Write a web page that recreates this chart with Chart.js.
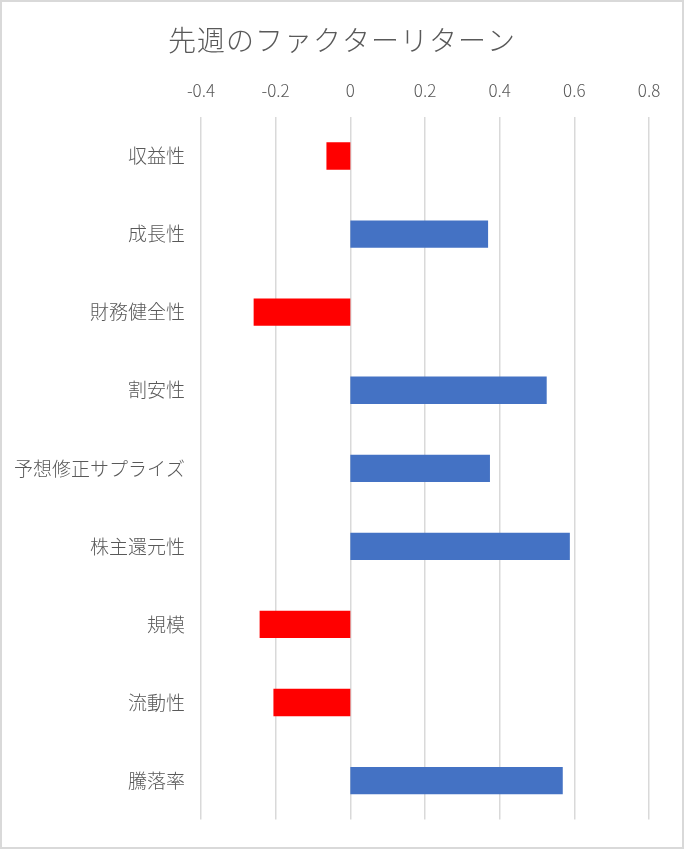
<!DOCTYPE html>
<html lang="ja">
<head>
<meta charset="utf-8">
<script src="https://cdn.jsdelivr.net/npm/chart.js@4"></script>
<style>
  html, body { margin: 0; padding: 0; background: #fff; }
  #wrap {
    width: 684px; height: 849px; box-sizing: border-box;
    border: 2px solid #d9d9d9; position: relative;
  }
  canvas { display: block; }
</style>
</head>
<body>
<div id="wrap"><canvas id="chart" width="680" height="845"></canvas></div>
<script>
// カテゴリと値 (先週のファクターリターン)
const categories = ['収益性', '成長性', '財務健全性', '割安性', '予想修正サプライズ', '株主還元性', '規模', '流動性', '騰落率'];
const returns = [-0.064, 0.369, -0.259, 0.526, 0.374, 0.588, -0.243, -0.206, 0.569];
const axisMin = -0.4;
const axisMax = 0.8;
const axisStep = 0.2;
const titleText = '先週のファクターリターン';

const FONT = "'Noto Sans CJK JP', 'Noto Sans', sans-serif";
const GRAY = '#595959';

// タイトルは枠全体の中央に描く (Chart.jsのtitleはpadding分ずれるため)
const titlePlugin = {
    id: 'centerTitle',
    afterDraw(chart) {
        const c = chart.ctx;
        c.save();
        c.font = `300 28px ${FONT}`;
        c.fillStyle = GRAY;
        c.textAlign = 'center';
        c.textBaseline = 'middle';
        if ('letterSpacing' in c) c.letterSpacing = '1px';
        c.fillText(titleText, chart.width / 2, 38.5);
        c.restore();
    }
};

const ctx = document.getElementById('chart').getContext('2d');

new Chart(ctx, {
    type: 'bar',
    data: {
        labels: categories,
        datasets: [{
            data: returns,
            backgroundColor: returns.map(v => v < 0 ? '#ff0000' : '#4472c4'),
            borderWidth: 0,
            categoryPercentage: 1,
            barPercentage: 0.35
        }]
    },
    options: {
        indexAxis: 'y',
        responsive: false,
        animation: false,
        layout: { padding: { left: 0, right: 33, top: 61.6, bottom: 23 } },
        plugins: {
            legend: { display: false },
            tooltip: { enabled: false },
            title: { display: false }
        },
        scales: {
            x: {
                position: 'top',
                min: axisMin,
                max: axisMax,
                ticks: {
                    stepSize: axisStep,
                    color: GRAY,
                    font: { family: FONT, size: 17, weight: 300 },
                    padding: 16,
                    callback: v => Math.round(v * 10) / 10
                },
                grid: { color: '#d9d9d9', lineWidth: 1.5, drawTicks: false },
                border: { display: false },
                afterFit: s => { s.height = 115 - 61.6; }
            },
            y: {
                ticks: {
                    color: GRAY,
                    font: { family: FONT, size: 19, weight: 300 },
                    padding: 16
                },
                grid: { display: false, drawTicks: false },
                border: { display: false },
                afterFit: s => { s.width = 199; }
            }
        }
    },
    plugins: [titlePlugin]
});
</script>
</body>
</html>
